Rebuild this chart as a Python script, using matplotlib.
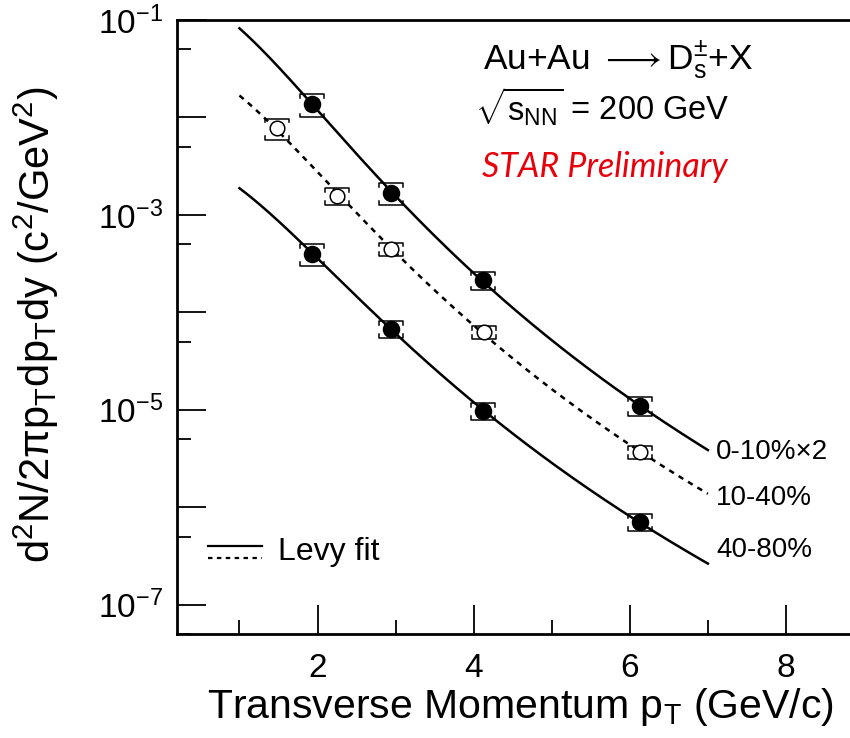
import numpy as np
import matplotlib
matplotlib.use("Agg")
import matplotlib.pyplot as plt
from matplotlib.ticker import FixedLocator, NullFormatter

plt.rcParams['font.family'] = ['Liberation Sans', 'DejaVu Sans']
plt.rcParams['mathtext.fontset'] = 'custom'
plt.rcParams['mathtext.rm'] = 'Liberation Sans'
plt.rcParams['mathtext.it'] = 'Liberation Sans:italic'
plt.rcParams['mathtext.bf'] = 'Liberation Sans:bold'
plt.rcParams['axes.unicode_minus'] = True

M_DS = 1.968  # GeV/c^2

# D_s spectra per centrality: pT (GeV/c), invariant yield, relative sys. error
pt_010 = np.array([1.93, 2.94, 4.12, 6.13])
y_010 = np.array([1.37e-2, 1.68e-3, 2.15e-4, 1.10e-5])     # already x2
sys_010 = np.array([0.27, 0.25, 0.22, 0.22])

pt_1040 = np.array([1.48, 2.25, 2.94, 4.13, 6.13])
y_1040 = np.array([7.8e-3, 1.57e-3, 4.48e-4, 6.3e-5, 3.7e-6])
sys_1040 = np.array([0.25, 0.20, 0.16, 0.16, 0.15])

pt_4080 = np.array([1.93, 2.94, 4.12, 6.13])
y_4080 = np.array([3.98e-4, 6.8e-5, 9.8e-6, 7.1e-7])
sys_4080 = np.array([0.25, 0.20, 0.19, 0.19])

cent_labels = ["0-10%\u00d72", "10-40%", "40-80%"]
FIT_RANGE = (1.0, 7.0)
BOX_HW = 0.15   # half-width of sys. boxes in pT


def levy_shape(pt, T, n):
    mt = np.sqrt(pt**2 + M_DS**2)
    norm = (n - 1) * (n - 2) / (2 * np.pi * n * T * (n * T + M_DS * (n - 2)))
    return norm * (1 + (mt - M_DS) / (n * T)) ** (-n)


def levy_fit(pt, y):
    """grid search in (T, n), dN/dy solved in log space"""
    best = None
    ly = np.log(y)
    for T in np.linspace(0.05, 1.0, 96):
        for n in np.geomspace(3, 300, 140):
            g = np.log(levy_shape(pt, T, n))
            c = np.mean(ly - g)
            r = np.sum((ly - g - c) ** 2)
            if best is None or r < best[0]:
                best = (r, T, n, np.exp(c))
    _, T, n, A = best
    return lambda p: A * levy_shape(p, T, n)


def draw_sys_boxes(ax, pt, y, rel, hw=BOX_HW, tick=0.04):
    f = 10 ** tick
    for x, v, r in zip(pt, y, rel):
        lo, hi = v * (1 - r), v * (1 + r)
        kw = dict(color='k', lw=1.1, zorder=4)
        ax.plot([x - hw, x - hw, x + hw, x + hw], [hi / f, hi, hi, hi / f], **kw)
        ax.plot([x - hw, x - hw, x + hw, x + hw], [lo * f, lo, lo, lo * f], **kw)


fig = plt.figure(figsize=(8.5, 7.38), dpi=100)
ax = fig.add_axes([177 / 850, 104 / 738, 1 - 177 / 850, 614 / 738])
ax.set_yscale('log')
ax.set_xlim(0.2, 8.82)
ax.set_ylim(5e-8, 1e-1)

pgrid = np.linspace(*FIT_RANGE, 200)
styles = [dict(ls='-'), dict(ls=(0, (2.2, 2.2))), dict(ls='-')]
series = [(pt_010, y_010, sys_010, 'k'), (pt_1040, y_1040, sys_1040, 'w'),
          (pt_4080, y_4080, sys_4080, 'k')]
for (pt, y, rel, face), st in zip(series, styles):
    fit = levy_fit(pt, y)
    ax.plot(pgrid, fit(pgrid), color='k', lw=1.8, zorder=2, **st)
    draw_sys_boxes(ax, pt, y, rel)
    ax.plot(pt, y, 'o', ms=11.5 if face == 'k' else 10.5, mfc=face, mec='k',
            mew=1.1, ls='none', zorder=5)

# centrality labels at the end of the curves
for lab, ypix in zip(cent_labels, [452, 498, 550]):
    fig.text(716 / 850, 1 - ypix / 738, lab, fontsize=20, va='center', ha='left')

# legend drawn by hand: solid + dotted line, one label
ax.plot([0.046, 0.126], [0.143, 0.143], transform=ax.transAxes, color='k', lw=1.6)
ax.plot([0.046, 0.126], [0.124, 0.124], transform=ax.transAxes, color='k', lw=1.6,
        ls=(0, (2, 2)))
ax.text(0.150, 0.133, "Levy fit", transform=ax.transAxes, fontsize=23, va='center')

fig.text(483 / 850, 1 - 70 / 738, r"Au+Au $\longrightarrow$D$_\mathregular{s}^{\pm}$+X",
         fontsize=25.5, va='baseline')
fig.text(475 / 850, 1 - 120 / 738, r"$\sqrt{\mathregular{s_{NN}}}$ = 200 GeV",
         fontsize=23.5, va='baseline')
fig.text(482 / 850, 1 - 177 / 738, "STAR Preliminary", fontsize=24.5, va='baseline',
         color='#e8000b', style='italic', family=['Lato', 'DejaVu Sans'])

# ticks
ax.xaxis.set_major_locator(FixedLocator([2, 4, 6, 8]))
ax.xaxis.set_minor_locator(FixedLocator([1, 3, 5, 7]))
ax.yaxis.set_major_locator(FixedLocator([10.0 ** k for k in range(-7, 0)]))
ax.yaxis.set_minor_locator(FixedLocator([5 * 10.0 ** k for k in range(-8, -1)]))
ax.yaxis.set_minor_formatter(NullFormatter())
ax.set_yticklabels([r"$\mathregular{10^{%d}}$" % k if k % 2 else "" for k in range(-7, 0)])
ax.set_xticklabels(["2", "4", "6", "8"])
ax.tick_params(which='both', direction='in', width=1.3, colors='k', labelsize=24)
ax.tick_params(which='major', length=21)
ax.tick_params(which='minor', length=10)
ax.tick_params(axis='x', pad=14)
ax.tick_params(axis='y', pad=10)
ax.spines['right'].set_visible(False)
for s in ('left', 'bottom', 'top'):
    ax.spines[s].set_linewidth(2)

fig.text(520 / 850, 1 - 718 / 738, r"Transverse Momentum p$_\mathregular{T}$ (GeV/c)",
         fontsize=29.5, ha='center', va='baseline')
fig.text(36 / 850, 1 - 325 / 738,
         r"$\mathregular{d^2N/2\pi p_T dp_T dy\ (c^2/GeV^2)}$",
         fontsize=30, rotation=90, ha='center', va='center')

fig.savefig("out.png", dpi=100)
